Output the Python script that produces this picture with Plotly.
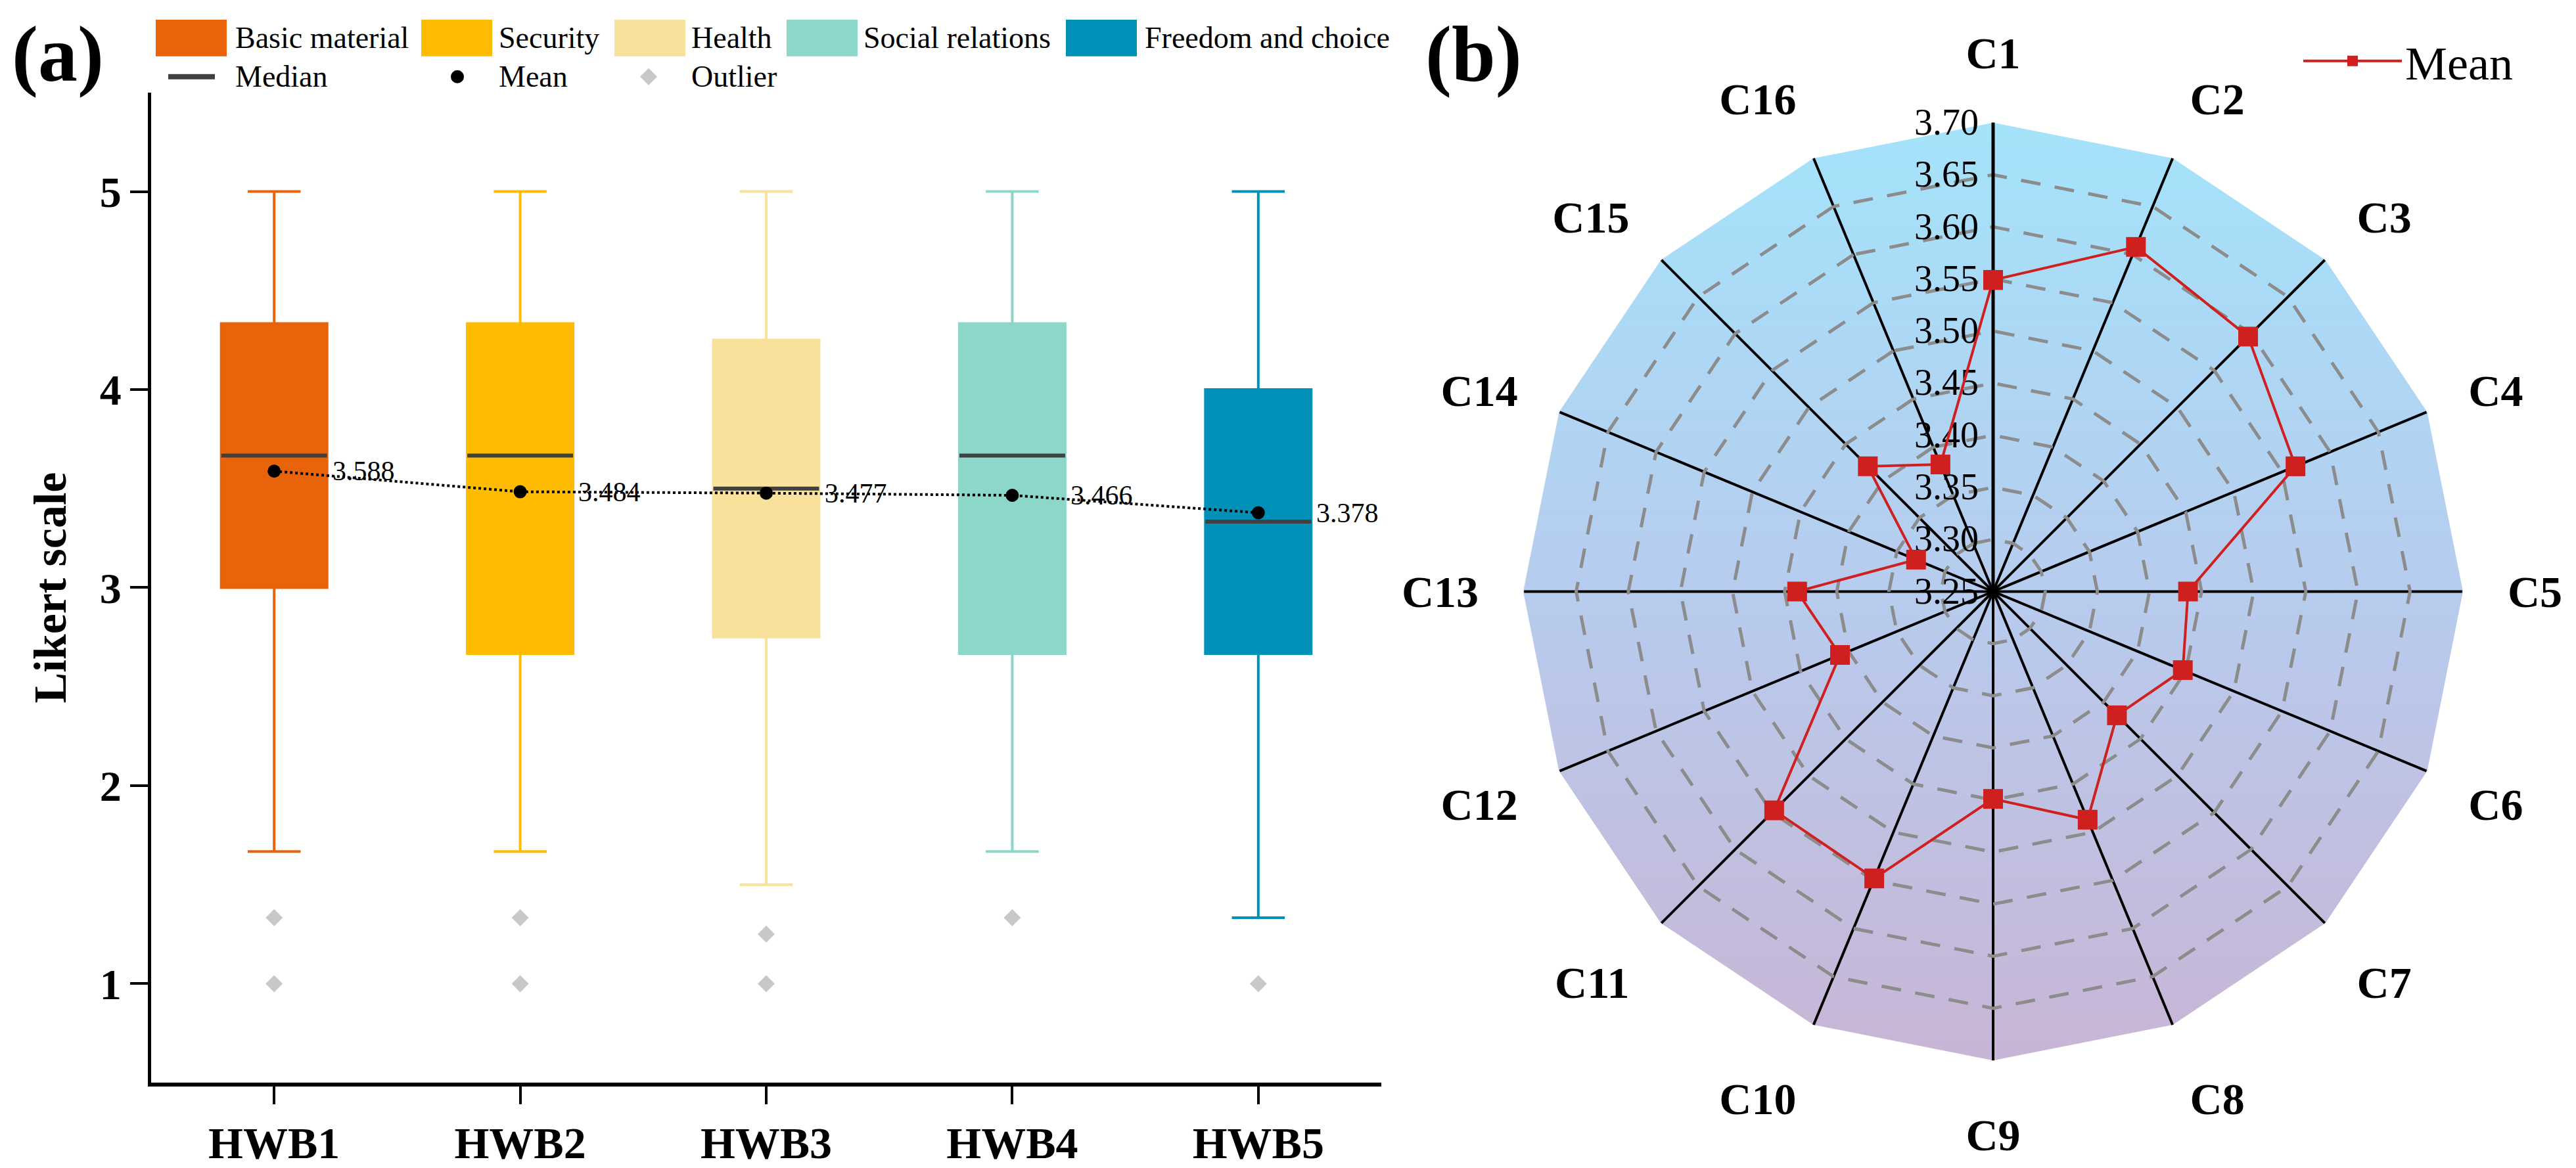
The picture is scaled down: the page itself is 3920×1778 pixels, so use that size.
import math
import plotly.graph_objects as go

W, H = 3920, 1778
FONT = "Liberation Serif"

# ---------------- Panel (a) data ----------------
hwb_labels = ["HWB1", "HWB2", "HWB3", "HWB4", "HWB5"]
hwb_pos = [0, 1, 2, 3, 4]
group_names = ["Basic material", "Security", "Health", "Social relations", "Freedom and choice"]
box_colors = ["#E8630A", "#FFBB00", "#F8E29B", "#8CD7CA", "#0091B9"]
q1_vals = [3.0, 2.667, 2.75, 2.667, 2.667]
median_vals = [3.667, 3.667, 3.5, 3.667, 3.333]
q3_vals = [4.333, 4.333, 4.25, 4.333, 4.0]
lower_whisker = [1.667, 1.667, 1.5, 1.667, 1.333]
upper_whisker = [5.0, 5.0, 5.0, 5.0, 5.0]
mean_vals = [3.588, 3.484, 3.477, 3.466, 3.378]
outlier_pos = [0, 0, 1, 1, 2, 2, 3, 4]
outlier_vals = [1.333, 1.0, 1.333, 1.0, 1.25, 1.0, 1.333, 1.0]
y_ticks = [1, 2, 3, 4, 5]

# ---------------- Panel (b) data ----------------
criteria = ["C1", "C2", "C3", "C4", "C5", "C6", "C7", "C8",
            "C9", "C10", "C11", "C12", "C13", "C14", "C15", "C16"]
radar_means = [3.549, 3.608, 3.596, 3.564, 3.437, 3.447, 3.418, 3.487,
               3.449, 3.548, 3.547, 3.409, 3.438, 3.330, 3.420, 3.382]
radial_ticks = [3.25, 3.30, 3.35, 3.40, 3.45, 3.50, 3.55, 3.60, 3.65, 3.70]
radial_ticktext = ["3.25", "3.30", "3.35", "3.40", "3.45", "3.50", "3.55", "3.60", "3.65", "3.70"]


def px(x):
    return x / W


def py(y):
    return 1 - y / H


BOX_W = 0.43

fig = go.Figure()

# boxes
for i in range(len(hwb_labels)):
    fig.add_trace(go.Box(
        x=[hwb_pos[i]], q1=[q1_vals[i]], median=[median_vals[i]], q3=[q3_vals[i]],
        lowerfence=[lower_whisker[i]], upperfence=[upper_whisker[i]],
        fillcolor=box_colors[i], line=dict(color=box_colors[i], width=4),
        width=BOX_W, whiskerwidth=0.5, boxpoints=False, name=group_names[i],
        showlegend=False, hoverinfo="skip", xaxis="x", yaxis="y"))

# medians
mx, my = [], []
for i in range(len(hwb_labels)):
    mx += [hwb_pos[i] - BOX_W / 2, hwb_pos[i] + BOX_W / 2, None]
    my += [median_vals[i], median_vals[i], None]
fig.add_trace(go.Scatter(x=mx, y=my, mode="lines", line=dict(color="#404040", width=6),
                         showlegend=False, hoverinfo="skip", xaxis="x", yaxis="y"))

# outliers
fig.add_trace(go.Scatter(x=outlier_pos, y=outlier_vals, mode="markers",
                         marker=dict(symbol="diamond", size=20, color="#C8C8C8"),
                         showlegend=False, hoverinfo="skip", xaxis="x", yaxis="y"))

# means
fig.add_trace(go.Scatter(x=hwb_pos, y=mean_vals, mode="lines+markers",
                         line=dict(color="black", width=4, dash="dot"),
                         marker=dict(size=20, color="black"),
                         showlegend=False, hoverinfo="skip", xaxis="x", yaxis="y"))

# radar background (gradient polygon)
n = len(criteria)
bx = [math.cos(math.radians(90 - k * 360 / n)) for k in range(n + 1)]
by = [math.sin(math.radians(90 - k * 360 / n)) for k in range(n + 1)]
fig.add_trace(go.Scatter(x=bx, y=by, mode="lines", fill="toself", line=dict(width=0),
                         fillgradient=dict(type="vertical",
                                           colorscale=[[0, "#C9B5D5"], [0.5, "#B7CCEE"], [1, "#A4E3FB"]]),
                         showlegend=False, hoverinfo="skip", xaxis="x2", yaxis="y2"))

# radar mean line
fig.add_trace(go.Scatterpolar(r=radar_means + radar_means[:1], theta=criteria + criteria[:1],
                              mode="lines+markers", name="Mean",
                              line=dict(color="#D01F1F", width=4),
                              marker=dict(symbol="square", size=30, color="#D01F1F"),
                              subplot="polar", hoverinfo="skip"))

# polar geometry
cx, cy, R = 3033, 902, 715
pdx = [px(cx - R), px(cx + R)]
pdy = [py(cy + R), py(cy - R)]

shapes = []
annotations = []

# legend (a)
patch_x = [237, 641, 935, 1197, 1622]
label_x = [356, 757, 1050, 1312, 1740]
for i in range(5):
    shapes.append(dict(type="rect", xref="paper", yref="paper",
                       x0=px(patch_x[i]), x1=px(patch_x[i] + 108), y0=py(86), y1=py(30),
                       fillcolor=box_colors[i], line=dict(width=0)))
    annotations.append(dict(x=px(label_x[i]), y=py(58), xref="paper", yref="paper",
                            text=group_names[i], showarrow=False, xanchor="left", yanchor="middle",
                            font=dict(size=46, color="black")))
shapes.append(dict(type="line", xref="paper", yref="paper", x0=px(256), x1=px(327), y0=py(117), y1=py(117),
                   line=dict(color="#404040", width=8)))
shapes.append(dict(type="circle", xref="paper", yref="paper", x0=px(686), x1=px(706), y0=py(127), y1=py(107),
                   fillcolor="black", line=dict(width=0)))
shapes.append(dict(type="path", xref="paper", yref="paper",
                   path=f"M{px(987)},{py(104)} L{px(1000)},{py(117)} L{px(987)},{py(130)} L{px(974)},{py(117)} Z",
                   fillcolor="#C8C8C8", line=dict(width=0)))
for txt, xx in [("Median", 356), ("Mean", 757), ("Outlier", 1050)]:
    annotations.append(dict(x=px(xx), y=py(117), xref="paper", yref="paper", text=txt, showarrow=False,
                            xanchor="left", yanchor="middle", font=dict(size=46, color="black")))

# mean labels
for i in range(5):
    annotations.append(dict(x=hwb_pos[i] + BOX_W / 2, y=mean_vals[i], xref="x", yref="y",
                            text=f"{mean_vals[i]:.3f}", showarrow=False, xanchor="left", yanchor="middle",
                            xshift=6, font=dict(size=42, color="black")))

# panel letters
annotations.append(dict(x=px(88), y=py(83), xref="paper", yref="paper", text="(a)", showarrow=False,
                        xanchor="center", yanchor="middle", font=dict(size=120, color="black", weight="bold")))
annotations.append(dict(x=px(2242), y=py(83), xref="paper", yref="paper", text="(b)", showarrow=False,
                        xanchor="center", yanchor="middle", font=dict(size=120, color="black", weight="bold")))

fig.update_layout(
    width=W, height=H, margin=dict(l=0, r=0, t=0, b=0),
    paper_bgcolor="white", plot_bgcolor="white",
    font=dict(family=FONT, color="black"),
    xaxis=dict(domain=[px(230), px(2102)], range=[-0.5, 4.5], tickvals=hwb_pos, ticktext=hwb_labels,
               showline=True, linecolor="black", linewidth=6, ticks="outside", ticklen=27, tickwidth=4,
               tickcolor="black", showgrid=False, zeroline=False,
               tickfont=dict(size=68, weight="bold"), anchor="y"),
    yaxis=dict(domain=[py(1651), py(141)], range=[0.5, 5.5], tickvals=y_ticks,
               showline=True, linecolor="black", linewidth=5, ticks="outside", ticklen=27, tickwidth=4,
               tickcolor="black", showgrid=False, zeroline=False,
               tickfont=dict(size=66, weight="bold"), anchor="x",
               title=dict(text="Likert scale", font=dict(size=70, weight="bold"), standoff=30)),
    xaxis2=dict(domain=pdx, range=[-1, 1], visible=False, anchor="y2"),
    yaxis2=dict(domain=pdy, range=[-1, 1], visible=False, anchor="x2"),
    polar=dict(
        domain=dict(x=pdx, y=pdy), bgcolor="rgba(0,0,0,0)", gridshape="linear",
        radialaxis=dict(range=[3.25, 3.70], tickvals=radial_ticks, ticktext=radial_ticktext,
                        angle=90, tickangle=90, side="counterclockwise",
                        showline=True, linecolor="black", linewidth=5,
                        showgrid=True, gridcolor="#8C8C8C", gridwidth=5, griddash="30px,22px",
                        ticks="", tickfont=dict(size=56, color="black"), layer="below traces"),
        angularaxis=dict(rotation=90, direction="clockwise", showline=False,
                         gridcolor="black", gridwidth=4, ticks="outside", ticklen=55,
                         tickcolor="rgba(0,0,0,0)", tickfont=dict(size=68, weight="bold"),
                         layer="below traces"),
    ),
    legend=dict(x=px(3500), y=py(93), xanchor="left", yanchor="middle",
                font=dict(size=72, color="black"), bgcolor="rgba(0,0,0,0)", itemwidth=150),
    shapes=shapes, annotations=annotations,
)

fig.write_html("out.html", config={"displayModeBar": False},
               post_script="document.body.style.margin='0';document.body.style.overflow='hidden';")
